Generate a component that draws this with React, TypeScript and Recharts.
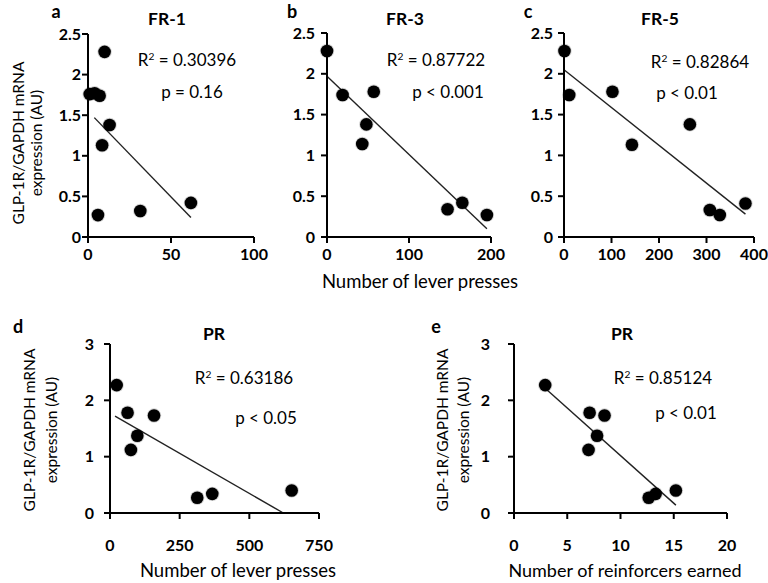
import React from 'react'
import { ScatterChart, Scatter, XAxis, YAxis, ReferenceLine } from 'recharts'

// ─── Data ────────────────────────────────────────────────────────────────────

const fr1Presses = [1, 4, 7, 10, 13, 8.5, 6, 31.5, 62]
const fr1Expr = [1.76, 1.77, 1.74, 2.28, 1.38, 1.13, 0.27, 0.32, 0.42]
const fr1FitX = [3.8, 62]
const fr1FitY = [1.47, 0.24]

const fr3Presses = [0, 19, 57, 48, 43, 147, 165, 195]
const fr3Expr = [2.28, 1.74, 1.78, 1.38, 1.14, 0.34, 0.42, 0.27]
const fr3FitX = [0, 195]
const fr3FitY = [1.97, 0.1]

const fr5Presses = [1, 11, 102, 143, 265, 307, 328, 382]
const fr5Expr = [2.28, 1.74, 1.78, 1.13, 1.38, 0.33, 0.27, 0.41]
const fr5FitX = [0, 382]
const fr5FitY = [2.05, 0.28]

const prPresses = [24, 63, 75, 98, 158, 313, 367, 652]
const prReinforcers = [2.93, 7.1, 7.0, 7.8, 8.5, 12.65, 13.3, 15.2]
const prExpr = [2.27, 1.78, 1.12, 1.37, 1.73, 0.27, 0.34, 0.4]
const prPressFitX = [18, 622]
const prPressFitY = [1.72, 0.0]
const prReinfFitX = [2.9, 15.2]
const prReinfFitY = [2.22, 0.14]

const ticksTopY = [0, 0.5, 1, 1.5, 2, 2.5]
const ticksBottomY = [0, 1, 2, 3]
const ticksFR1 = [0, 50, 100]
const ticksFR3 = [0, 100, 200]
const ticksFR5 = [0, 100, 200, 300, 400]
const ticksPRPress = [0, 250, 500, 750]
const ticksPRReinf = [0, 5, 10, 15, 20]

const FONT = 'Lato, "Open Sans", sans-serif'

type Rect = { x0: number; y0: number; x1: number; y1: number }

interface PanelProps {
  plot: Rect
  xs: number[]
  ys: number[]
  fitX: number[]
  fitY: number[]
  xTicks: number[]
  yTicks: number[]
  xTickMargin: number
  yTickMargin: number
  fontSize: number
}

const Dot = (p: any) => (
  <g>
    <circle cx={p.cx} cy={p.cy} r={7.2} fill="#000" opacity={0.18} />
    <circle cx={p.cx} cy={p.cy} r={6.3} fill="#000" />
  </g>
)

function Panel({ plot, xs, ys, fitX, fitY, xTicks, yTicks, xTickMargin, yTickMargin, fontSize }: PanelProps) {
  const yAxisW = 60
  const xAxisH = 45
  const m = { top: 10, right: 20, left: 0, bottom: 0 }
  const width = plot.x1 - plot.x0 + yAxisW + m.left + m.right
  const height = plot.y1 - plot.y0 + xAxisH + m.top + m.bottom
  const data = xs.map((x, i) => ({ x, y: ys[i] }))
  const tick = { fill: '#000', fontSize, fontWeight: 700, fontFamily: FONT }
  const axisStyle = { stroke: '#000', strokeWidth: 2 }
  return (
    <div style={{ position: 'absolute', left: plot.x0 - yAxisW - m.left, top: plot.y0 - m.top }}>
      <ScatterChart width={width} height={height} margin={m}>
        <XAxis
          type="number"
          dataKey="x"
          domain={[xTicks[0], xTicks[xTicks.length - 1]]}
          ticks={xTicks}
          interval={0}
          height={xAxisH}
          tick={tick}
          tickSize={6}
          tickMargin={xTickMargin}
          axisLine={axisStyle}
          tickLine={axisStyle}
        />
        <YAxis
          type="number"
          dataKey="y"
          domain={[yTicks[0], yTicks[yTicks.length - 1]]}
          ticks={yTicks}
          interval={0}
          width={yAxisW}
          tick={tick}
          tickSize={6}
          tickMargin={yTickMargin}
          axisLine={axisStyle}
          tickLine={axisStyle}
        />
        <ReferenceLine
          segment={[{ x: fitX[0], y: fitY[0] }, { x: fitX[1], y: fitY[1] }]}
          stroke="#222"
          strokeWidth={1.4}
        />
        <Scatter data={data} shape={Dot} isAnimationActive={false} />
      </ScatterChart>
    </div>
  )
}

function Txt({ x, y, size, bold, children }: { x: number; y: number; size: number; bold?: boolean; children: React.ReactNode }) {
  return (
    <div
      style={{
        position: 'absolute', left: x, top: y, transform: 'translate(-50%, -50%)',
        fontFamily: FONT, fontSize: size, fontWeight: bold ? 700 : 400, color: '#000', whiteSpace: 'nowrap', lineHeight: 1.1,
      }}
    >
      {children}
    </div>
  )
}

function YTitle({ x, y, size, gap }: { x: number; y: number; size: number; gap: number }) {
  return (
    <div
      style={{
        position: 'absolute', left: x, top: y, transform: 'translate(-50%, -50%) rotate(-90deg)',
        fontFamily: FONT, fontSize: size, color: '#000', whiteSpace: 'nowrap', textAlign: 'center', lineHeight: `${gap}px`,
      }}
    >
      GLP-1R/GAPDH mRNA<br />expression (AU)
    </div>
  )
}

const R2 = ({ v }: { v: string }) => (
  <span>R<sup style={{ fontSize: '0.6em', verticalAlign: '0.55em', lineHeight: 0 }}>2</sup> = {v}</span>
)

export default function App() {
  return (
    <div style={{ position: 'absolute', left: 0, top: 0, width: 768, height: 583, background: '#fff', overflow: 'hidden' }}>
      <Panel plot={{ x0: 88, y0: 34, x1: 254, y1: 237 }} xs={fr1Presses} ys={fr1Expr} fitX={fr1FitX} fitY={fr1FitY}
        xTicks={ticksFR1} yTicks={ticksTopY} xTickMargin={6} yTickMargin={1} fontSize={16} />
      <Panel plot={{ x0: 327, y0: 33, x1: 491, y1: 237 }} xs={fr3Presses} ys={fr3Expr} fitX={fr3FitX} fitY={fr3FitY}
        xTicks={ticksFR3} yTicks={ticksTopY} xTickMargin={6} yTickMargin={6} fontSize={16} />
      <Panel plot={{ x0: 564, y0: 33, x1: 754, y1: 237 }} xs={fr5Presses} ys={fr5Expr} fitX={fr5FitX} fitY={fr5FitY}
        xTicks={ticksFR5} yTicks={ticksTopY} xTickMargin={6} yTickMargin={5} fontSize={16} />
      <Panel plot={{ x0: 110, y0: 344, x1: 319, y1: 513 }} xs={prPresses} ys={prExpr} fitX={prPressFitX} fitY={prPressFitY}
        xTicks={ticksPRPress} yTicks={ticksBottomY} xTickMargin={21} yTickMargin={10} fontSize={16} />
      <Panel plot={{ x0: 514, y0: 344, x1: 727, y1: 513 }} xs={prReinforcers} ys={prExpr} fitX={prReinfFitX} fitY={prReinfFitY}
        xTicks={ticksPRReinf} yTicks={ticksBottomY} xTickMargin={21} yTickMargin={18} fontSize={16} />

      {/* panel letters and titles */}
      <Txt x={56} y={12} size={18} bold>a</Txt>
      <Txt x={167} y={19} size={17.5} bold>FR-1</Txt>
      <Txt x={292} y={12} size={18} bold>b</Txt>
      <Txt x={405} y={19} size={17.5} bold>FR-3</Txt>
      <Txt x={528} y={12} size={18} bold>c</Txt>
      <Txt x={660} y={19} size={17.5} bold>FR-5</Txt>
      <Txt x={18} y={327} size={18} bold>d</Txt>
      <Txt x={214} y={334} size={17.5} bold>PR</Txt>
      <Txt x={436} y={327} size={18} bold>e</Txt>
      <Txt x={622} y={334} size={17.5} bold>PR</Txt>

      {/* stats */}
      <Txt x={187} y={60} size={17}><R2 v="0.30396" /></Txt>
      <Txt x={192} y={92} size={17}>p = 0.16</Txt>
      <Txt x={436} y={60} size={17}><R2 v="0.87722" /></Txt>
      <Txt x={448} y={92} size={17}>p &lt; 0.001</Txt>
      <Txt x={700} y={62} size={17}><R2 v="0.82864" /></Txt>
      <Txt x={687} y={93} size={17}>p &lt; 0.01</Txt>
      <Txt x={244} y={378} size={17}><R2 v="0.63186" /></Txt>
      <Txt x={266} y={418} size={17}>p &lt; 0.05</Txt>
      <Txt x={663} y={378} size={17}><R2 v="0.85124" /></Txt>
      <Txt x={686} y={413} size={17}>p &lt; 0.01</Txt>

      {/* axis titles */}
      <YTitle x={27} y={143} size={15.5} gap={18} />
      <YTitle x={40} y={430} size={15.5} gap={22} />
      <YTitle x={453} y={430} size={15.5} gap={21} />
      <Txt x={420} y={281} size={18.5}>Number of lever presses</Txt>
      <Txt x={238} y={570} size={18.5}>Number of lever presses</Txt>
      <Txt x={625} y={571} size={18}>Number of reinforcers earned</Txt>
    </div>
  )
}
